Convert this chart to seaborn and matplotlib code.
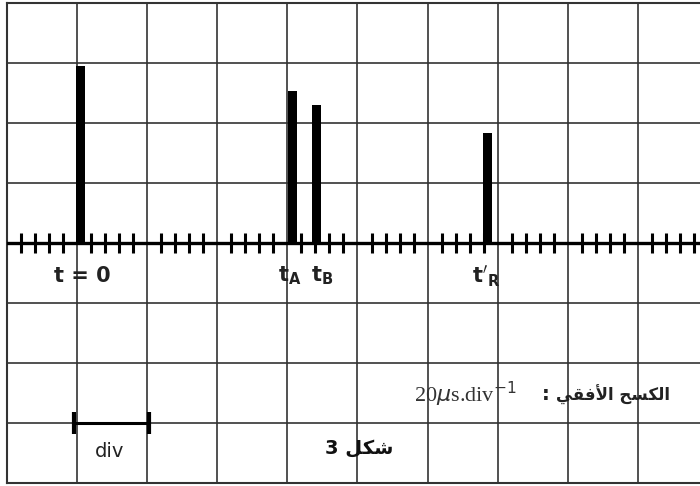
import numpy as np
import pandas as pd
import matplotlib.pyplot as plt
import seaborn as sns

# pulse positions (div from t = 0) and heights (div)
pulse_names = ["t0", "tA", "tB", "tR"]
pulse_pos = [0.05, 3.07, 3.41, 5.86]
pulse_height = [2.95, 2.53, 2.30, 1.83]
pulse_labels = ["t = 0", r"$\mathbf{t_A}$", r"$\mathbf{t_B}$", r"$\mathbf{t'_R}$"]
label_pos = [0.08, 3.03, 3.50, 5.84]

x_major = list(range(-1, 9))
y_major = list(range(-4, 5))
x_minor = [round(v, 1) for v in np.arange(-1, 9, 0.2) if abs(v - round(v)) > 1e-6]

sns.set_theme(style="white")
plt.rcParams["font.family"] = ["DejaVu Sans"]

df = pd.DataFrame({"pos": pulse_pos, "h": pulse_height, "name": pulse_names})

fig = plt.figure(figsize=(7, 4.86), dpi=100)
ax = fig.add_axes([7 / 700, 3 / 486, 693 / 700, 480 / 486])

min_gap = np.min(np.diff(sorted(pulse_pos)))
sns.barplot(data=df, x="pos", y="h", native_scale=True, width=0.13 / min_gap,
            color="black", errorbar=None, ax=ax, zorder=4,
            linewidth=0, edgecolor="black")

ax.set_xlim(-1, 8.886)
ax.set_ylim(-4, 4)
ax.set_xticks(x_major)
ax.set_yticks(y_major)
ax.grid(True, color="#333333", lw=1.2)
ax.tick_params(length=0, labelbottom=False, labelleft=False)
ax.set_xlabel("")
ax.set_ylabel("")
for side in ["left", "top", "bottom"]:
    ax.spines[side].set_color("#333333")
    ax.spines[side].set_linewidth(1.5)
ax.spines["right"].set_visible(False)

# time axis with graduations
ax.axhline(0, color="black", lw=2.4, zorder=3)
ax.vlines(x_minor, -0.17, 0.17, color="black", lw=2.2, zorder=3)

for lab, xp in zip(pulse_labels, label_pos):
    ax.text(xp, -0.55, lab, ha="center", va="center", fontsize=15,
            fontweight="bold", color="#222222")

# scale bar
ax.plot([-0.04, 1.03], [-3, -3], color="black", lw=2.2, zorder=4)
ax.vlines([-0.04, 1.03], -3.18, -2.82, color="black", lw=3, zorder=4)
ax.text(0.46, -3.48, "div", ha="center", va="center", fontsize=14, color="#222222")

# figure caption and sweep
ax.text(4.03, -3.42, "3 \uFEDE\uFEDC\uFEB7", ha="center", va="center",
        fontsize=14, fontweight="bold", color="#111111")
ax.text(8.46, -2.53, "\uFEF2\uFED8\uFED3\uFEF7\uFE8D \uFEA2\uFEB4\uFEDC\uFEDF\uFE8D",
        ha="right", va="center", fontsize=12, fontweight="bold", color="#222222")
ax.text(6.68, -2.53, ":", ha="center", va="center", fontsize=14,
        fontweight="bold", color="#222222")
ax.text(6.27, -2.53, r"20$\mu$s.div$^{-1}$", ha="right", va="center",
        fontsize=16, family="Liberation Serif", color="#333333")

fig.savefig("out.png", dpi=100)
